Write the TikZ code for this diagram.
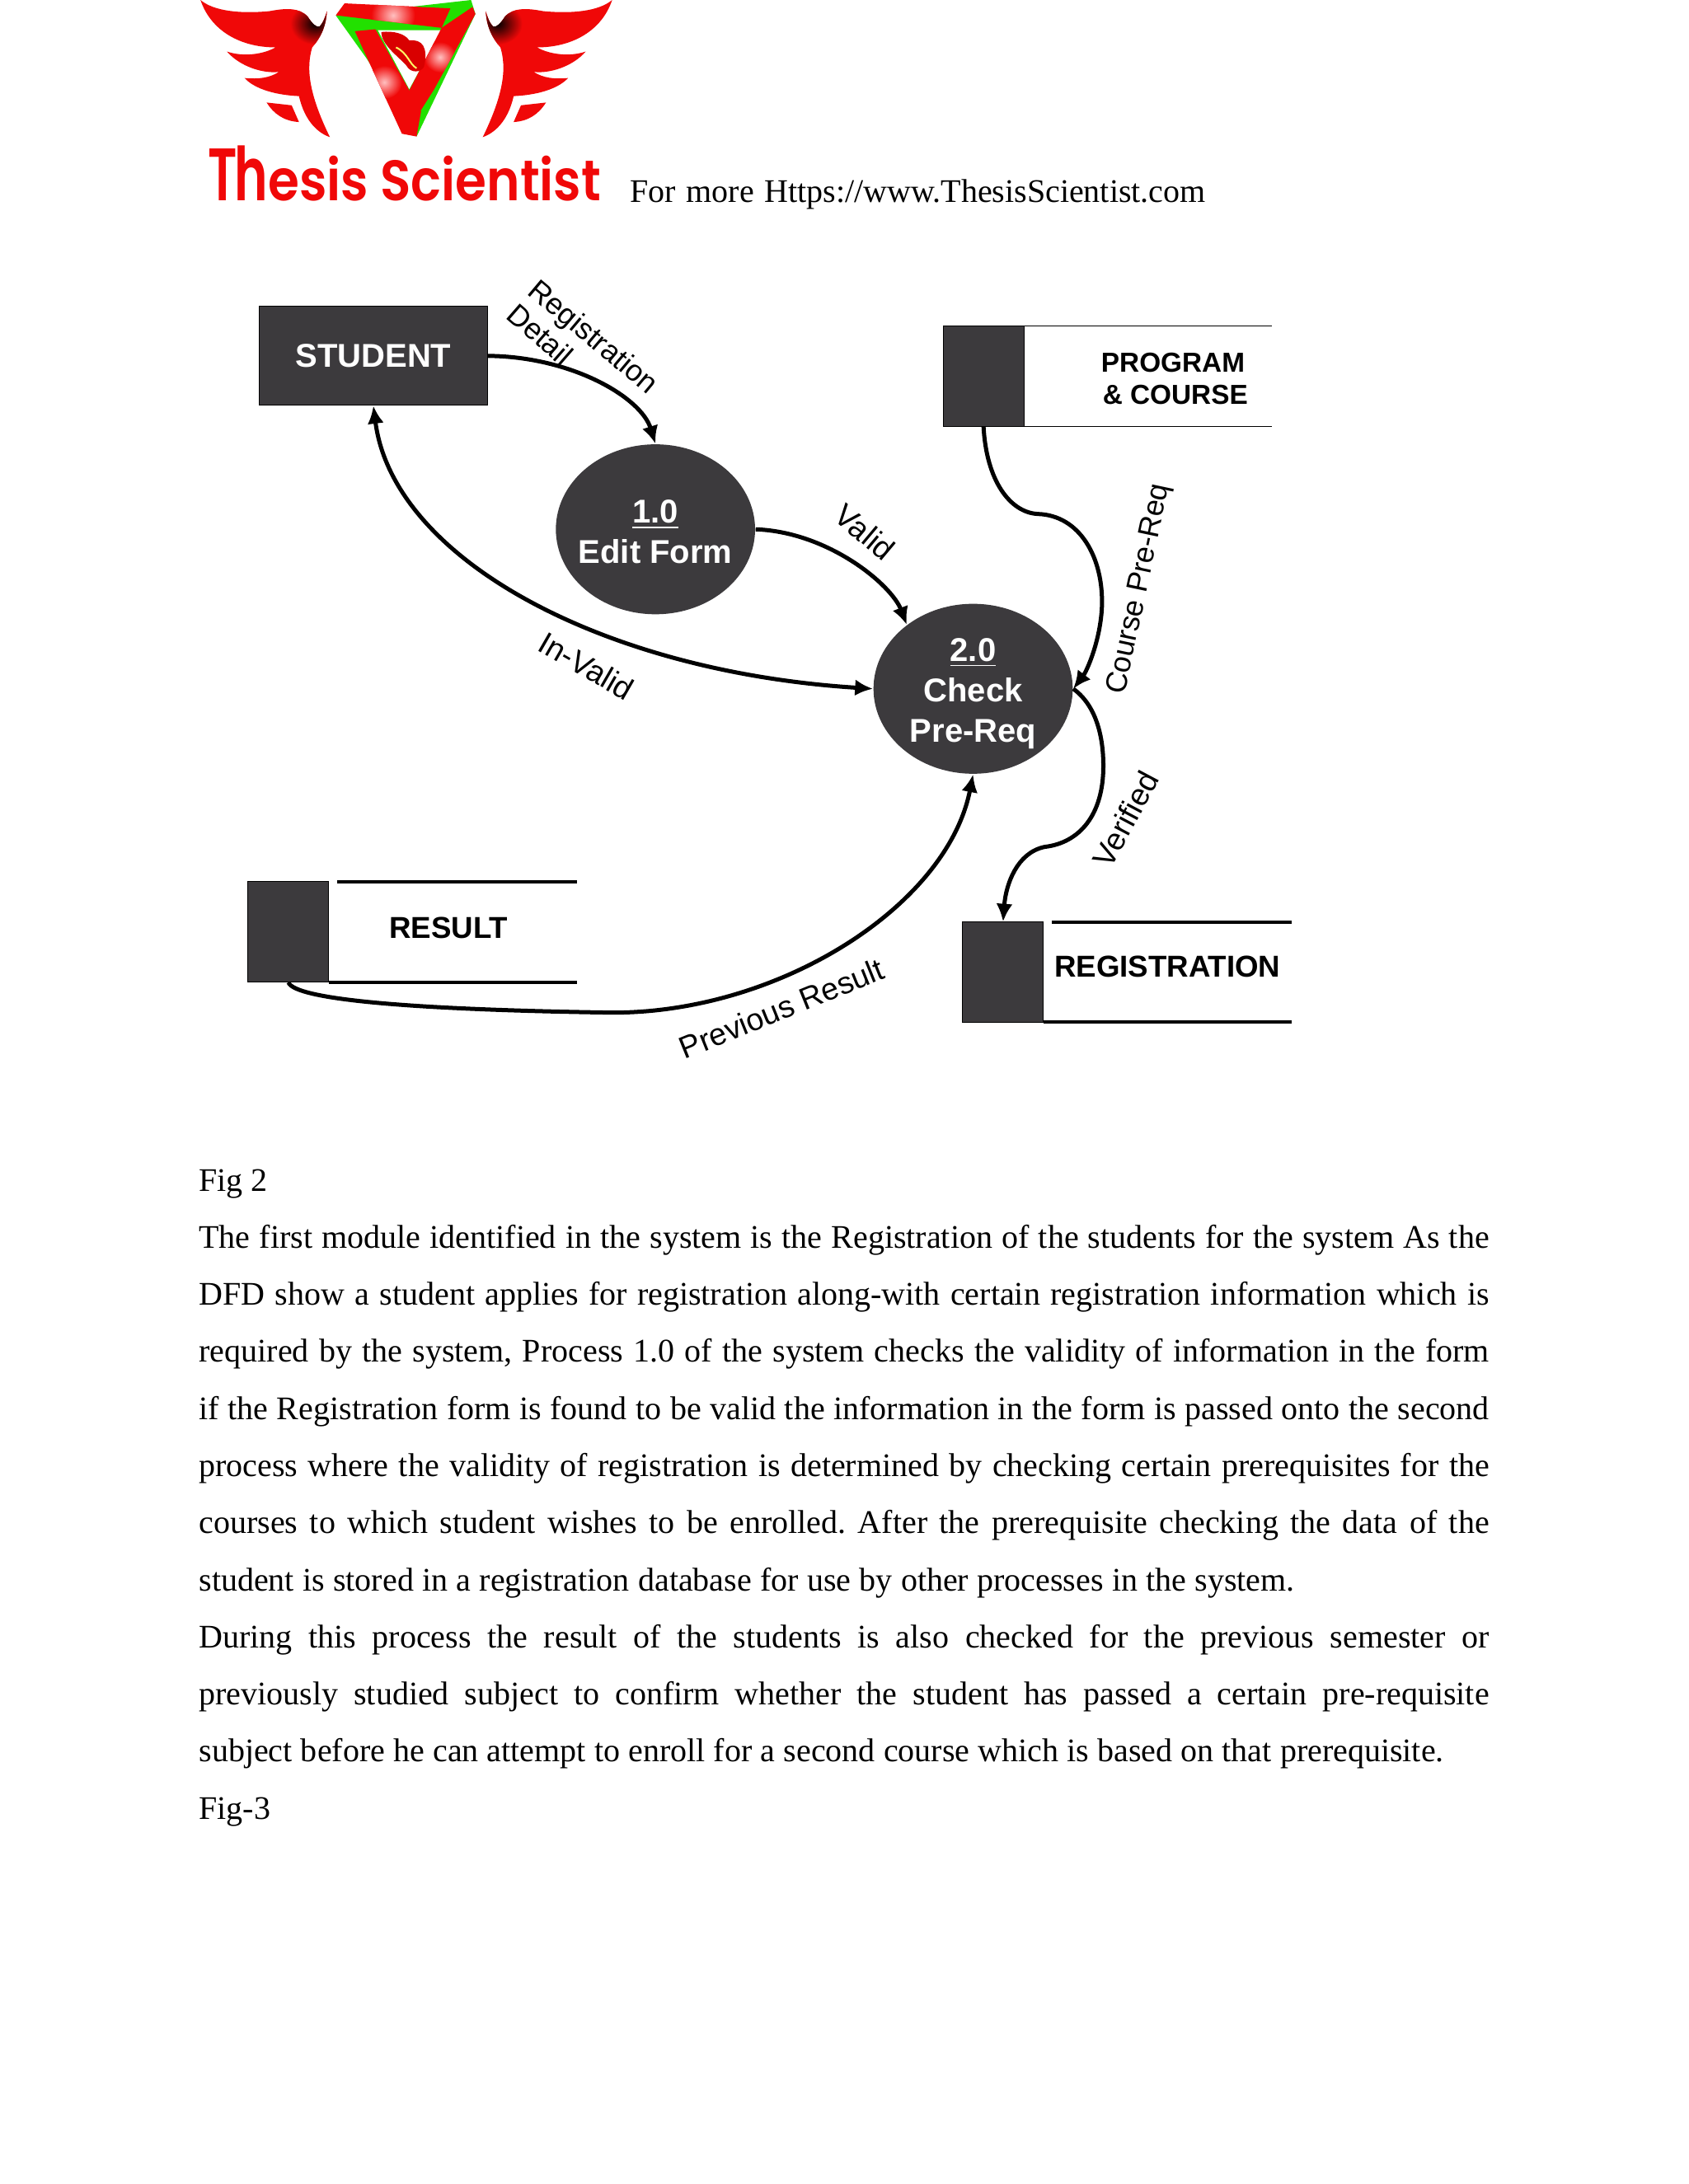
\documentclass[tikz,border=0pt]{standalone}
\usepackage{fontspec}
\usetikzlibrary{arrows.meta,shapes.geometric}
\setmainfont{Liberation Serif}
\newfontfamily\dia{Liberation Sans}
\newfontfamily\logofont{Poppins SemiBold}
\definecolor{dark}{HTML}{3C3A3D}
\definecolor{logored}{HTML}{F00808}
\definecolor{logogreen}{HTML}{22E000}
\def\u{0.50694pt}
\newcommand{\wingpath}{(65,0) .. controls (110,40) and (200,50) .. (300,40) .. controls (350,30) and (400,25) .. (430,60) .. controls (445,85) and (460,100) .. (470,95) .. controls (480,85) and (490,60) .. (495,40) .. controls (492,100) and (470,140) .. (445,170) .. controls (425,240) and (430,330) .. (505,492) .. controls (470,480) and (420,440) .. (400,345) .. controls (300,340) and (240,310) .. (215,280) .. controls (260,285) and (300,280) .. (332,258) .. controls (280,265) and (200,240) .. (155,185) .. controls (210,205) and (280,195) .. (320,170) .. controls (200,170) and (100,110) .. (65,0) -- cycle}
\newcommand{\wingdraw}{%
  \fill[logored] (290,368) -- (375,378) -- (400,438) .. controls (350,435) and (315,410) .. (290,368) -- cycle;
  \begin{scope}
    \clip \wingpath;
    \fill[logored] (0,0) rectangle (600,500);
    \shade[inner color=black,outer color=logored] (455,85) ellipse (85 and 75);
  \end{scope}}
\tikzset{
  x=0.50694pt,y=-0.50694pt,
  darkbox/.style={draw=black,line width=0.3pt,fill=dark,inner sep=0pt,minimum width={58*\u},minimum height={72*\u}},
  proc/.style={ellipse,fill=dark,inner sep=0pt,minimum width={143*\u},minimum height={122*\u}},
  proctext/.style={inner sep=0pt,text=white,align=center,font=\dia\bfseries\fontsize{12}{14.7}\selectfont},
  store/.style={font=\dia\bfseries\fontsize{11}{13}\selectfont,inner sep=0pt,align=center},
  lbl/.style={font=\dia\fontsize{11.3}{12.5}\selectfont,inner sep=0pt},
  lbls/.style={font=\dia\fontsize{10.8}{12.5}\selectfont,inner sep=0pt},
  flow/.style={line width=1.5pt,-{Latex[length=6.5pt,width=6pt]}},
  textline/.style={anchor=base west,inner sep=0pt,font=\fontsize{12}{14}\selectfont},
}
\newcommand{\jl}[1]{\makebox[469.5pt][s]{#1}}
\begin{document}
\frenchspacing
\begin{tikzpicture}
\useasboundingbox (0,0) rectangle (1212,1568);
\fill[white] (0,0) rectangle (1212,1568);
% logo
\begin{scope}[shift={(130.2,0)},x=0.107pt,y=-0.1014pt]
  \wingdraw
  \begin{scope}[shift={(1530,0)},xscale=-1]
    \wingdraw
  \end{scope}
  % triangle
  \fill[logogreen] (525,55) -- (985,0) -- (1000,50) -- (800,490) -- (630,210) -- cycle;
  \fill[white] (668,108) -- (885,108) -- (775,320) -- cycle;
  \begin{scope}
    \clip (525,55) -- (555,12) -- (915,30) -- (885,100) -- cycle;
    \fill[logored] (500,0) rectangle (950,120);
    \shade[inner color=red!25!white,outer color=logored] (720,55) circle (75);
  \end{scope}
  \begin{scope}
    \clip (590,112) -- (660,105) -- (815,400) -- (800,490) -- (750,480) -- cycle;
    \fill[logored] (550,90) rectangle (850,500);
    \shade[inner color=red!25!white,outer color=logored] (690,295) circle (60);
  \end{scope}
  \begin{scope}
    \clip (990,25) -- (1000,50) -- (860,320) -- (812,400) -- (770,335) -- (885,100) -- cycle;
    \fill[logored] (750,0) rectangle (1010,410);
    \shade[inner color=red!25!white,outer color=logored] (880,205) circle (55);
  \end{scope}
  \fill[red!85!black] (680,115) .. controls (720,110) and (760,120) .. (775,145) .. controls (820,140) and (840,170) .. (825,240) .. controls (815,260) and (780,265) .. (765,235) .. controls (735,200) and (680,160) .. (680,115) -- cycle;
  \draw[yellow!60!white,line width=0.6pt] (730,170) .. controls (770,190) and (775,230) .. (800,245);
\end{scope}
\node[anchor=base west,inner sep=0pt,text=logored,font=\logofont] (logotext) at (149,144) {\resizebox{143pt}{20pt}{\scalebox{1}[1.3]{T\kern-0.05em h}esis Scientist}};
\node[textline] (header) at (452,145.5) {\makebox[209.4pt][s]{For more Https://www.ThesisScientist.com}};
% nodes
\node[darkbox,minimum width={164*\u},minimum height={71*\u},text=white,font=\dia\bfseries\fontsize{12}{14}\selectfont] (student) at (268,255.5) {\raisebox{-0.6pt}{STUDENT}};
\node[proc] (p1) at (470.5,380) {};
\node[proctext] (p1text) at (470.5,382) {\underline{1.0}\\Edit Form};
\node[proc] (p2) at (698.5,494.5) {};
\node[proctext] (p2text) at (698.5,498) {\underline{2.0}\\Check\\Pre-Req};
\node[darkbox] (prog) at (706,270) {};
\coordinate (progA) at (735,234);
\coordinate (progB) at (913,234);
\coordinate (progC) at (735,306);
\coordinate (progD) at (913,306);
\draw[line width=0.4pt] (progA) -- (progB) (progC) -- (progD);
\node[store,font=\dia\bfseries\fontsize{10}{11.6}\selectfont] (progtext) at (842,272) {PROGRAM\\\,\& COURSE};
\node[darkbox] (res) at (207,669) {};
\coordinate (resA) at (242,633);
\coordinate (resB) at (414,633);
\coordinate (resC) at (236,705);
\coordinate (resD) at (414,705);
\draw[line width=1.2pt] (resA) -- (resB) (resC) -- (resD);
\node[store] (restext) at (322,666) {RESULT};
\node[darkbox] (reg) at (720,698) {};
\coordinate (regA) at (755,662);
\coordinate (regB) at (927,662);
\coordinate (regC) at (749,733.5);
\coordinate (regD) at (927,733.5);
\draw[line width=1.1pt] (regA) -- (regB) (regC) -- (regD);
\node[store] (regtext) at (838,694) {REGISTRATION};
% connectors
\draw[flow] (student.east) .. controls (410,256) and (460,285) .. (p1.north);
\draw[flow] (p1.east) .. controls (595,382) and (640,420) .. (p2.136);
\draw[flow,{Latex[length=6.5pt,width=6pt]}-{Latex[length=6.5pt,width=6pt]}] (student.south) .. controls (282,400) and (430,482) .. (p2.west);
\draw[flow] (prog.south) .. controls (708,345) and (725,368) .. (745,369) .. controls (775,370) and (792,400) .. (791,435) .. controls (790,460) and (780,482) .. (p2.east);
\draw[flow] (p2.east) .. controls (785,505) and (792,525) .. (792,550) .. controls (792,585) and (775,605) .. (750,608) .. controls (730,612) and (722,635) .. (reg.north);
\draw[flow] (res.south) .. controls (212,718) and (300,725) .. (440,727) .. controls (560,727) and (680,650) .. (p2.south);
% labels
\node[lbls,rotate=-40] (l1) at (425,243) {Registration};
\node[lbls,rotate=-41] (l2) at (388,240) {Detail};
\node[lbl,rotate=-40] (l3) at (621,382) {Valid};
\node[lbl,rotate=-30] (l4) at (421,478) {In-Valid};
\node[lbls,rotate=78] (l5) at (818,423) {Course Pre-Req};
\node[lbl,rotate=62] (l6) at (808,588) {Verified};
\node[lbl,rotate=22] (l7) at (561,724) {Previous Result};
% body
\node[textline] (t0) at (142.5,855) {Fig 2};
\node[textline] (t1) at (142.5,896) {\jl{The first module identified in the system is the Registration of the students for the system As the}};
\node[textline] (t2) at (142.5,937) {\jl{DFD show a student applies for registration along-with certain registration information which is}};
\node[textline] (t3) at (142.5,978) {\jl{required by the system, Process 1.0 of the system checks the validity of information in the form}};
\node[textline] (t4) at (142.5,1019) {\jl{if the Registration form is found to be valid the information in the form is passed onto the second}};
\node[textline] (t5) at (142.5,1060) {\jl{process where the validity of registration is determined by checking certain prerequisites for the}};
\node[textline] (t6) at (142.5,1101) {\jl{courses to which student wishes to be enrolled. After the prerequisite checking the data of the}};
\node[textline] (t7) at (142.5,1142) {\makebox[398.7pt][s]{student is stored in a registration database for use by other processes in the system.}};
\node[textline] (t8) at (142.5,1183) {\jl{During this process the result of the students is also checked for the previous semester or}};
\node[textline] (t9) at (142.5,1224) {\jl{previously studied subject to confirm whether the student has passed a certain pre-requisite}};
\node[textline] (t10) at (142.5,1265) {\makebox[453pt][s]{subject before he can attempt to enroll for a second course which is based on that prerequisite.}};
\node[textline] (t11) at (142.5,1306) {Fig-3};
\end{tikzpicture}
\end{document}
